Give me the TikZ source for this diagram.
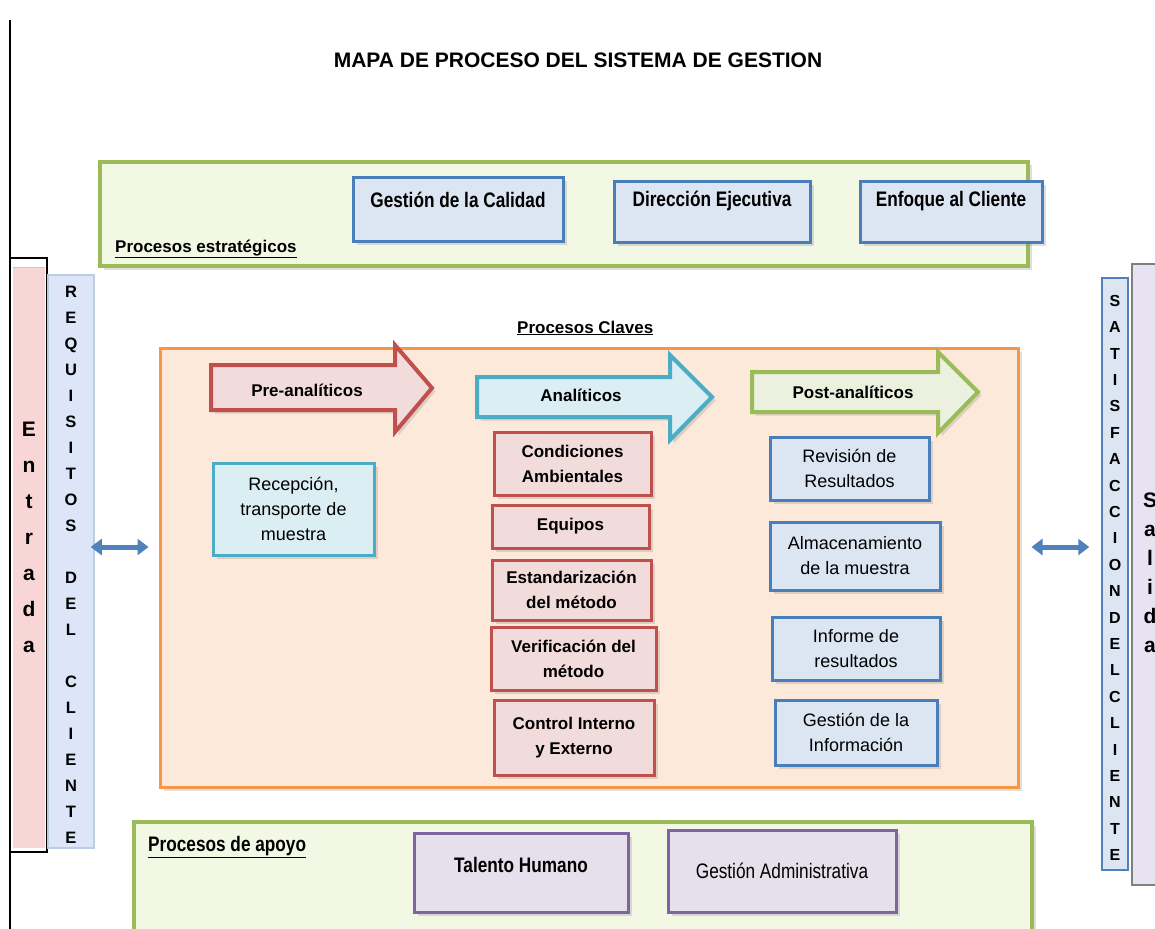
\documentclass[tikz,border=0pt]{standalone}
\usepackage{fontspec}
\setmainfont{Liberation Sans}
\newfontfamily\narrowf{Liberation Sans}[FakeStretch=0.82]
\usetikzlibrary{arrows.meta,shadows,calc}
\definecolor{grnB}{HTML}{9BBB59}
\definecolor{grnF}{HTML}{F2F8E4}
\definecolor{bluB}{HTML}{4A7EBB}
\definecolor{bluF}{HTML}{DCE6F2}
\definecolor{orgB}{HTML}{F79646}
\definecolor{orgF}{HTML}{FDE9D9}
\definecolor{redB}{HTML}{C0504D}
\definecolor{redF}{HTML}{F2DCDB}
\definecolor{cyaB}{HTML}{4BACC6}
\definecolor{cyaF}{HTML}{DAEEF3}
\definecolor{purB}{HTML}{8064A2}
\definecolor{purF}{HTML}{E5E0EC}
\definecolor{pstF}{HTML}{EBF1DE}
\definecolor{entF}{HTML}{F8D6D6}
\definecolor{reqF}{HTML}{DCE6F8}
\definecolor{reqB}{HTML}{B9CDE5}
\definecolor{salF}{HTML}{E8E3F2}
\definecolor{arrB}{HTML}{4F81BD}
\begin{document}
\begin{tikzpicture}[x=1pt,y=-1pt,
  every node/.style={inner sep=0pt, text=black},
  bf/.style={font=\fontsize{17}{25}\selectfont\bfseries, align=center},
  rg/.style={font=\fontsize{18}{25}\selectfont, align=center},
  nb/.style={font=\fontsize{21}{25}\selectfont\narrowf\bfseries},
  nr/.style={font=\fontsize{21}{25}\selectfont\narrowf},
  shad/.style={drop shadow={shadow xshift=3.5pt, shadow yshift=-3.5pt, opacity=0.25}},
  cont/.style={draw=grnB, fill=grnF, line width=4pt, shad},
  box/.style={rectangle, line width=3pt, align=center, shad},
  stratbox/.style={box, draw=bluB, fill=bluF},
  analbox/.style={box, draw=redB, fill=redF},
  postbox/.style={box, draw=bluB, fill=bluF},
  recbox/.style={box, draw=cyaB, fill=cyaF},
  apobox/.style={box, draw=purB, fill=purF},
  blockarrow/.style={line width=4pt, line join=miter, shad},
  dblarrow/.style={draw=arrB, line width=5pt, {Triangle[length=11pt,width=16pt]}-{Triangle[length=11pt,width=16pt]}}
]
\useasboundingbox (0,0) rectangle (1155,928);
\clip (0,0) rectangle (1155,928);
\fill[white] (0,0) rectangle (1155,928);

% title
\node[font=\fontsize{21}{24}\selectfont\bfseries] (title) at (578,60) {MAPA DE PROCESO DEL SISTEMA DE GESTION};

% left frame line
\draw[line width=1.2pt] (10,20) -- (10,940);

% strategic container
\draw[cont] (100,162) rectangle (1028,266);
\node[font=\fontsize{17}{20}\selectfont\bfseries, anchor=base west] (pest) at (115,252) {\underline{Procesos estratégicos}};
\node[stratbox, minimum width=210, minimum height=64] (gcal) at (458,209) {};
\node[nb] (gcalT) at (458,200) {Gestión de la Calidad};
\node[stratbox, minimum width=196, minimum height=61] (dej) at (712,211.5) {};
\node[nb] (dejT) at (712,201) {Dirección Ejecutiva};
\node[stratbox, minimum width=182, minimum height=61] (ecl) at (951,211.5) {};
\node[nb] (eclT) at (951,201) {Enfoque al Cliente};

% Entrada
\node[rectangle, fill=entF, minimum width=32, minimum height=580] (ent) at (29,558) {};
\draw[line width=0.8pt, draw=redB!40] (ent.north west) -- (ent.north east);
\draw[line width=1.2pt] (10,258) rectangle (47,852);
\node[font=\fontsize{21}{36}\selectfont\bfseries, align=center] (entT) at (29,537) {E\\n\\t\\r\\a\\d\\a};

% Requisitos
\node[rectangle, draw=reqB, fill=reqF, line width=1.5pt, minimum width=46, minimum height=573] (req) at (71,561.5) {};
\node[font=\fontsize{16.5}{26}\selectfont\bfseries, align=center] (reqT) at (71,565) {R\\E\\Q\\U\\I\\S\\I\\T\\O\\S\\[26pt]D\\E\\L\\[26pt]C\\L\\I\\E\\N\\T\\E};

% Salida
\node[rectangle, draw=black!50, fill=salF, line width=1.2pt, minimum width=40, minimum height=621] (sal) at (1152,574.5) {};
\node[font=\fontsize{21}{29}\selectfont\bfseries, align=center] (salT) at (1150,573) {S\\a\\l\\i\\d\\a};

% Satisfaccion
\node[rectangle, draw=arrB, fill=bluF, line width=1.5pt, minimum width=26, minimum height=592] (sat) at (1115,574) {};
\node[font=\fontsize{16}{26.4}\selectfont\bfseries, align=center] (satT) at (1115,578) {S\\A\\T\\I\\S\\F\\A\\C\\C\\I\\O\\N\\D\\E\\L\\C\\L\\I\\E\\N\\T\\E};

% key processes
\node[font=\fontsize{17}{20}\selectfont\bfseries, anchor=base west] (pcla) at (517,333) {\underline{Procesos Claves}};
\node[rectangle, draw=orgB, fill=orgF, line width=3pt, minimum width=858, minimum height=439, shad] (cla) at (589,567.5) {};

% block arrows
\draw[blockarrow, draw=redB, fill=redF] (211,365) -- (395,365) -- (395,345) -- (432,388) -- (395,432) -- (395,410) -- (211,410) -- cycle;
\node[bf] (preT) at (307,390) {Pre-analíticos};
\draw[blockarrow, draw=cyaB, fill=cyaF] (477,377) -- (670,377) -- (670,355) -- (712,397) -- (670,440) -- (670,417) -- (477,417) -- cycle;
\node[bf] (anaT) at (581,395) {Analíticos};
\draw[blockarrow, draw=grnB, fill=pstF] (752,372) -- (938,372) -- (938,352) -- (978,392) -- (938,433) -- (938,412) -- (752,412) -- cycle;
\node[bf] (posT) at (853,392) {Post-analíticos};

% pre-analytic box
\node[recbox, rg, minimum width=161, minimum height=92] (rec) at (293.5,509) {Recepción,\\transporte de\\muestra};

% analytic boxes
\node[analbox, bf, minimum width=157, minimum height=63] (cond) at (572.5,463.5) {Condiciones\\Ambientales};
\node[analbox, bf, minimum width=157, minimum height=43] (equ) at (570.5,526.5) {Equipos};
\node[analbox, bf, minimum width=159, minimum height=60] (est) at (571.5,590) {Estandarización\\del método};
\node[analbox, bf, minimum width=165, minimum height=63] (ver) at (573.5,658.5) {Verificación del\\método};
\node[analbox, bf, minimum width=160, minimum height=75] (con) at (574,737.5) {Control Interno\\y Externo};

% post-analytic boxes
\node[postbox, rg, minimum width=159, minimum height=63] (rev) at (849.5,468.5) {Revisión de\\Resultados};
\node[postbox, rg, minimum width=170, minimum height=68] (alm) at (855,556) {Almacenamiento\\de la muestra};
\node[postbox, rg, minimum width=168, minimum height=63] (inf) at (856,648.5) {Informe de\\resultados};
\node[postbox, rg, minimum width=162, minimum height=65] (gin) at (856,732.5) {Gestión de la\\Información};

% double arrows
\coordinate (ay) at (0,547);
\draw[dblarrow, shorten <=-4pt, shorten >=10pt] (req.east |- ay) -- (cla.west |- ay);
\draw[dblarrow, shorten <=12pt, shorten >=12pt] (cla.east |- ay) -- (sat.west |- ay);

% support processes
\draw[cont] (134,822) rectangle (1032,945);
\node[nb, anchor=base west] (papo) at (148,851) {\underline{Procesos de apoyo}};
\node[apobox, minimum width=214, minimum height=79] (tal) at (521,872.5) {};
\node[nb] (talT) at (521,865) {Talento Humano};
\node[apobox, nr, minimum width=228, minimum height=82] (gad) at (782,871) {Gestión Administrativa};
\end{tikzpicture}
\end{document}
